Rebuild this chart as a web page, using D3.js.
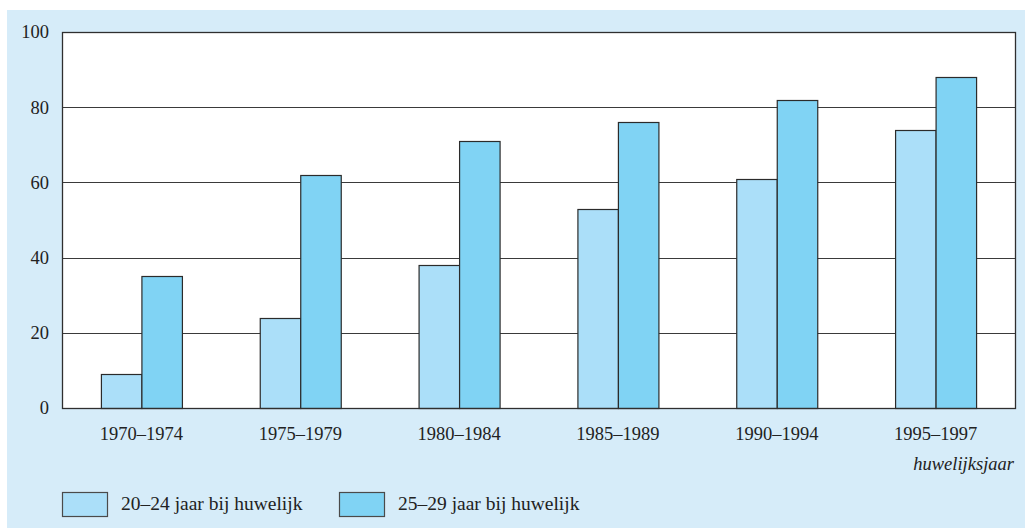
<!DOCTYPE html>
<html lang="nl">
<head>
  <meta charset="UTF-8" />
  <title>Huwelijksjaar</title>
  <script src="https://d3js.org/d3.v7.min.js"></script>
  <style>
    body { margin: 0; background: #ffffff; }
    svg { display: block; font-family: 'Liberation Serif', 'DejaVu Serif', serif; }
  </style>
</head>
<body>
  <svg id="chart" width="1025" height="528"></svg>
  <script>
    const categories = ["1970–1974", "1975–1979", "1980–1984", "1985–1989", "1990–1994", "1995–1997"];
    const seriesNames = ["20–24 jaar bij huwelijk", "25–29 jaar bij huwelijk"];
    const young = [9, 24, 38, 53, 61, 74];
    const older = [35, 62, 71, 76, 82, 88];
    const yTicks = [0, 20, 40, 60, 80, 100];

    const colors = ["#abdff9", "#80d3f4"];
    const svg = d3.select("#chart");
    const width = 1025, height = 528;
    const plot = {left: 62, right: 1015, top: 32, bottom: 408};

    // light blue panel under a white strip
    svg.append("rect").attr("x", 7).attr("y", 10)
      .attr("width", width - 7).attr("height", height - 10)
      .attr("fill", "#d6ecf9");

    svg.append("rect")
      .attr("x", plot.left).attr("y", plot.top)
      .attr("width", plot.right - plot.left).attr("height", plot.bottom - plot.top)
      .attr("fill", "#ffffff");

    const y = d3.scaleLinear().domain([0, 100]).range([plot.bottom, plot.top]);
    const x0 = d3.scaleBand().domain(categories).range([plot.left, plot.right]).padding(0);
    const groupW = 81;
    const x1 = d3.scaleBand().domain([0, 1]).range([0, groupW]).padding(0);

    // grid lines
    svg.append("g").selectAll("line")
      .data(yTicks.filter(t => t > 0 && t < 100))
      .join("line")
        .attr("x1", plot.left).attr("x2", plot.right)
        .attr("y1", d => Math.round(y(d)) + 0.5).attr("y2", d => Math.round(y(d)) + 0.5)
        .attr("stroke", "#3a3a3a").attr("stroke-width", 1);

    const table = categories.map((c, i) => ({cat: c, vals: [young[i], older[i]]}));

    const groups = svg.append("g").selectAll("g")
      .data(table)
      .join("g")
        .attr("transform", d => `translate(${x0(d.cat) + (x0.bandwidth() - groupW) / 2},0)`);

    groups.selectAll("rect")
      .data(d => d.vals.map((v, k) => ({k, v})))
      .join("rect")
        .attr("x", d => x1(d.k) + 0.5)
        .attr("y", d => Math.round(y(d.v)) + 0.5)
        .attr("width", x1.bandwidth())
        .attr("height", d => Math.round(plot.bottom - y(d.v)))
        .attr("fill", d => colors[d.k])
        .attr("stroke", "#2b2b2b")
        .attr("stroke-width", 1.2);

    // plot frame
    svg.append("rect")
      .attr("x", plot.left + 0.5).attr("y", plot.top + 0.5)
      .attr("width", plot.right - plot.left).attr("height", plot.bottom - plot.top)
      .attr("fill", "none").attr("stroke", "#2f2f2f").attr("stroke-width", 1.3);

    // y tick labels
    svg.append("g").selectAll("text")
      .data(yTicks)
      .join("text")
        .attr("x", 49).attr("y", d => y(d))
        .attr("dy", "0.35em")
        .attr("text-anchor", "end")
        .attr("font-size", 18.5)
        .attr("fill", "#222")
        .text(d => d);

    // x category labels
    svg.append("g").selectAll("text")
      .data(categories)
      .join("text")
        .attr("x", d => x0(d) + x0.bandwidth() / 2)
        .attr("y", 440)
        .attr("text-anchor", "middle")
        .attr("font-size", 18.5)
        .attr("fill", "#222")
        .text(d => d);

    svg.append("text")
      .attr("x", 1014).attr("y", 470)
      .attr("text-anchor", "end")
      .attr("font-size", 18.5)
      .attr("font-style", "italic")
      .attr("fill", "#222")
      .text("huwelijksjaar");

    // legend
    const legendX = [62, 339];
    const legend = svg.append("g").selectAll("g")
      .data(seriesNames)
      .join("g")
        .attr("transform", (d, i) => `translate(${legendX[i]},492)`);
    legend.append("rect")
      .attr("x", 0.5).attr("y", 0.5)
      .attr("width", 45).attr("height", 24)
      .attr("fill", (d, i) => colors[i])
      .attr("stroke", "#4a4a4a").attr("stroke-width", 1.2);
    legend.append("text")
      .attr("x", 59).attr("y", 18)
      .attr("font-size", 19.5)
      .attr("fill", "#222")
      .text(d => d);
  </script>
</body>
</html>
